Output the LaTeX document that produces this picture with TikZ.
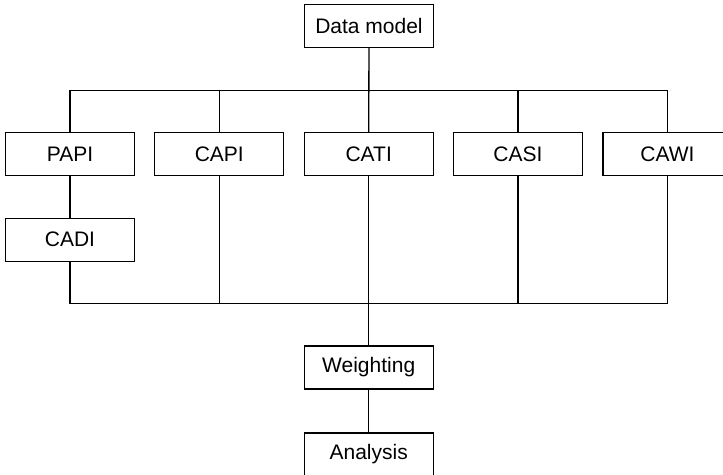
\documentclass[tikz,border=0pt]{standalone}
\usepackage{fontspec}
\setmainfont{Liberation Sans}
\usetikzlibrary{calc}

\begin{document}
\begin{tikzpicture}[x=1pt,y=1pt,line width=1.3pt,
modus/.style={ rectangle,draw=black,minimum width=129pt,minimum height=43pt,inner sep=0pt,font=\fontsize{21}{25}\selectfont
}]
\clip (0,0) rectangle (723,-474);
\node[modus](dm) at (369,-26.3){Data model};
\node[modus](papi) at (70,-154.2){PAPI};
\node[modus](capi) at (219.3,-154.2){CAPI};
\node[modus](cati) at (368.7,-154.2){CATI};
\node[modus](casi) at (518,-154.2){CASI};
\node[modus](cawi) at (667.5,-154.2){CAWI};
\node[modus](cadi) at (70,-239.7){CADI};
\node[modus](weight) at (368.7,-367.5){Weighting};
\node[modus](analysis) at (368.7,-454.5){Analysis};
\coordinate(felso) at (368.7,-90.5);
\coordinate(also) at (368.7,-303.7);
\begin{scope}[line cap=rect]
 \draw (dm)--(cati);
 \draw (papi)|-(felso)-|(cawi);
 \draw (capi)--(capi|-felso);
 \draw (casi)--(casi|-felso);
 \draw (papi)--(cadi);
 \draw (cadi)|-(also)-|(cawi);
 \draw (capi)--(capi|-also);
 \draw (casi)--(casi|-also);
 \draw (cati)--(weight);
 \draw (weight)--(analysis);
\end{scope}
\end{tikzpicture}
\end{document}
